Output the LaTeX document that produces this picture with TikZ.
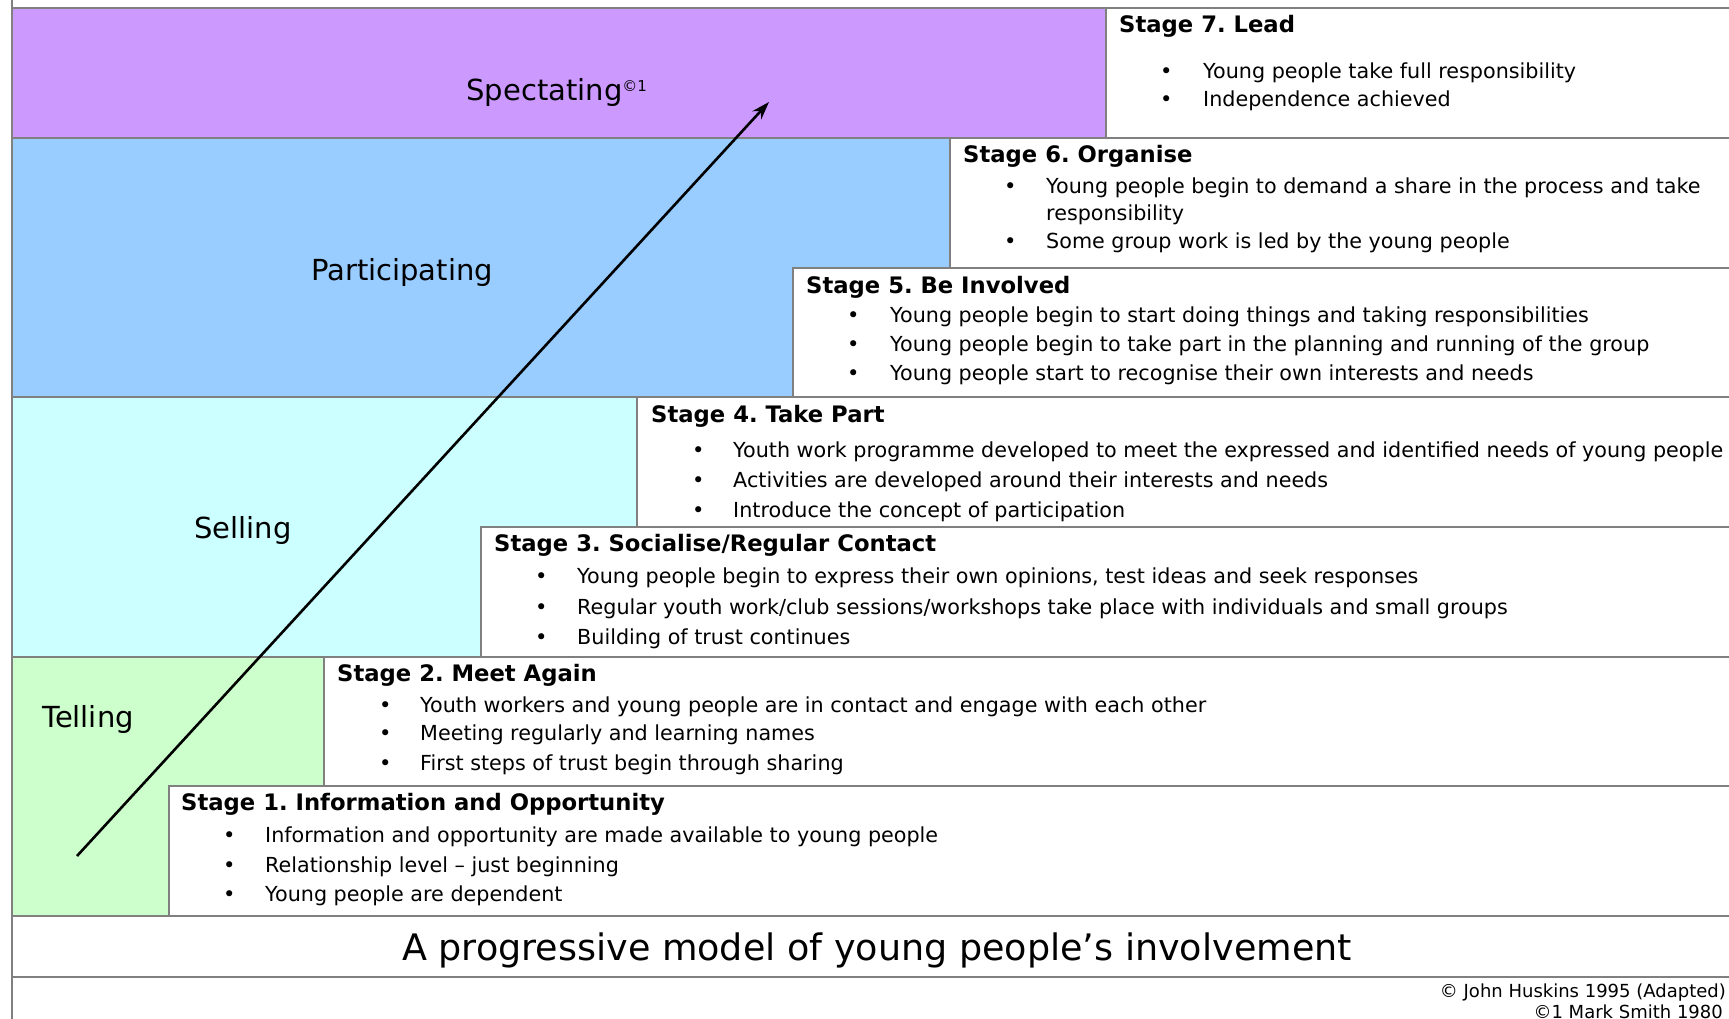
\documentclass[tikz,border=0pt]{standalone}
\usepackage{fontspec}
\setmainfont{DejaVu Sans}
\usetikzlibrary{arrows.meta}
\definecolor{specc}{HTML}{CC99FF}
\definecolor{partc}{HTML}{99CCFF}
\definecolor{sellc}{HTML}{CCFFFF}
\definecolor{tellc}{HTML}{CCFFCC}
\definecolor{edgec}{HTML}{808080}
\frenchspacing
\begin{document}
\begin{tikzpicture}[x=1pt,y=-1pt,
  boxline/.style={draw=edgec,line width=1.6pt},
  bandlabel/.style={inner sep=0pt,font=\fontsize{29}{34}\selectfont},
  stagehead/.style={anchor=mid west,inner sep=0pt,font=\fontsize{22.7}{27}\selectfont\bfseries},
  bul/.style={anchor=mid west,inner sep=0pt,font=\fontsize{21}{25}\selectfont},
  item/.style={anchor=mid west,inner sep=0pt,font=\fontsize{20.7}{25}\selectfont}]
\useasboundingbox (0,0) rectangle (1729,1019);
\clip (0,0) rectangle (1729,1019);
% bands
\fill[specc] (12,8) rectangle (1745,138);
\fill[partc] (12,138) rectangle (1745,397);
\fill[sellc] (12,397) rectangle (1745,657);
\fill[tellc] (12,657) rectangle (1745,916);
% stage boxes
\draw[boxline,fill=white] (1106,8) rectangle (1745,138);
\draw[boxline,fill=white] (950,138) rectangle (1745,268);
\draw[boxline,fill=white] (793,268) rectangle (1745,397);
\draw[boxline,fill=white] (637,397) rectangle (1745,527);
\draw[boxline,fill=white] (481,527) rectangle (1745,657);
\draw[boxline,fill=white] (324,657) rectangle (1745,786);
\draw[boxline,fill=white] (169,786) rectangle (1745,916);
% band outlines
\draw[boxline] (12,8) -- (1745,8);
\draw[boxline] (12,138) -- (1106,138);
\draw[boxline] (12,397) -- (950,397);
\draw[boxline] (12,657) -- (637,657);
\draw[boxline] (12,916) -- (1745,916);
\draw[boxline] (12,977) -- (1745,977);
\draw[boxline] (12,0) -- (12,1030);
\begin{scope}[yshift=-4.5pt]
% band labels
\node[bandlabel] (spec) at (557,88) {Spectating\textsuperscript{\fontsize{15}{17}\selectfont ©1}};
\node[bandlabel] (part) at (402,268) {Participating};
\node[bandlabel] (sell) at (243,526) {Selling};
\node[bandlabel] (tell) at (88,715) {Telling};
% Stage 7
\node[stagehead] (h7) at (1119,25) {Stage 7. Lead};
\node[bul] (b71) at (1160,71) {•};
\node[item] (t71) at (1203,71) {Young people take full responsibility};
\node[bul] (b72) at (1160,99) {•};
\node[item] (t72) at (1203,99) {Independence achieved};
% Stage 6
\node[stagehead] (h6) at (963,155) {Stage 6. Organise};
\node[bul] (b61) at (1004,186) {•};
\node[item] (t61) at (1046,186) {Young people begin to demand a share in the process and take};
\node[item] (t61b) at (1046,213) {responsibility};
\node[bul] (b62) at (1004,241) {•};
\node[item] (t62) at (1046,241) {Some group work is led by the young people};
% Stage 5
\node[stagehead] (h5) at (806,286) {Stage 5. Be Involved};
\node[bul] (b51) at (847,315) {•};
\node[item] (t51) at (890,315) {Young people begin to start doing things and taking responsibilities};
\node[bul] (b52) at (847,344) {•};
\node[item] (t52) at (890,344) {Young people begin to take part in the planning and running of the group};
\node[bul] (b53) at (847,373) {•};
\node[item] (t53) at (890,373) {Young people start to recognise their own interests and needs};
% Stage 4
\node[stagehead] (h4) at (651,415) {Stage 4. Take Part};
\node[bul] (b41) at (692,450) {•};
\node[item] (t41) at (733,450) {Youth work programme developed to meet the expressed and identified needs of young people};
\node[bul] (b42) at (692,480) {•};
\node[item] (t42) at (733,480) {Activities are developed around their interests and needs};
\node[bul] (b43) at (692,510) {•};
\node[item] (t43) at (733,510) {Introduce the concept of participation};
% Stage 3
\node[stagehead] (h3) at (494,544) {Stage 3. Socialise/Regular Contact};
\node[bul] (b31) at (535,576) {•};
\node[item] (t31) at (577,576) {Young people begin to express their own opinions, test ideas and seek responses};
\node[bul] (b32) at (535,607) {•};
\node[item] (t32) at (577,607) {Regular youth work/club sessions/workshops take place with individuals and small groups};
\node[bul] (b33) at (535,637) {•};
\node[item] (t33) at (577,637) {Building of trust continues};
% Stage 2
\node[stagehead] (h2) at (337,674) {Stage 2. Meet Again};
\node[bul] (b21) at (379,705) {•};
\node[item] (t21) at (420,705) {Youth workers and young people are in contact and engage with each other};
\node[bul] (b22) at (379,733) {•};
\node[item] (t22) at (420,733) {Meeting regularly and learning names};
\node[bul] (b23) at (379,763) {•};
\node[item] (t23) at (420,763) {First steps of trust begin through sharing};
% Stage 1
\node[stagehead] (h1) at (181,803) {Stage 1. Information and Opportunity};
\node[bul] (b11) at (223,835) {•};
\node[item] (t11) at (265,835) {Information and opportunity are made available to young people};
\node[bul] (b12) at (223,865) {•};
\node[item] (t12) at (265,865) {Relationship level – just beginning};
\node[bul] (b13) at (223,894) {•};
\node[item] (t13) at (265,894) {Young people are dependent};
% title and footer
\node[inner sep=0pt,font=\fontsize{36.5}{42}\selectfont] (title) at (877,946) {A progressive model of young people’s involvement};
\node[anchor=mid east,inner sep=0pt,font=\fontsize{18}{21}\selectfont] (c1) at (1726,990) {© John Huskins 1995 (Adapted)};
\node[anchor=mid east,inner sep=0pt,font=\fontsize{18}{21}\selectfont] (c2) at (1723,1011) {©1 Mark Smith 1980};
\end{scope}
% arrow
\coordinate (arrS) at (77,856);
\coordinate (arrE) at (769,102);
\draw[line width=2.6pt,-{Stealth[length=18pt,width=12pt]}] (arrS) -- (arrE);
\end{tikzpicture}
\end{document}
